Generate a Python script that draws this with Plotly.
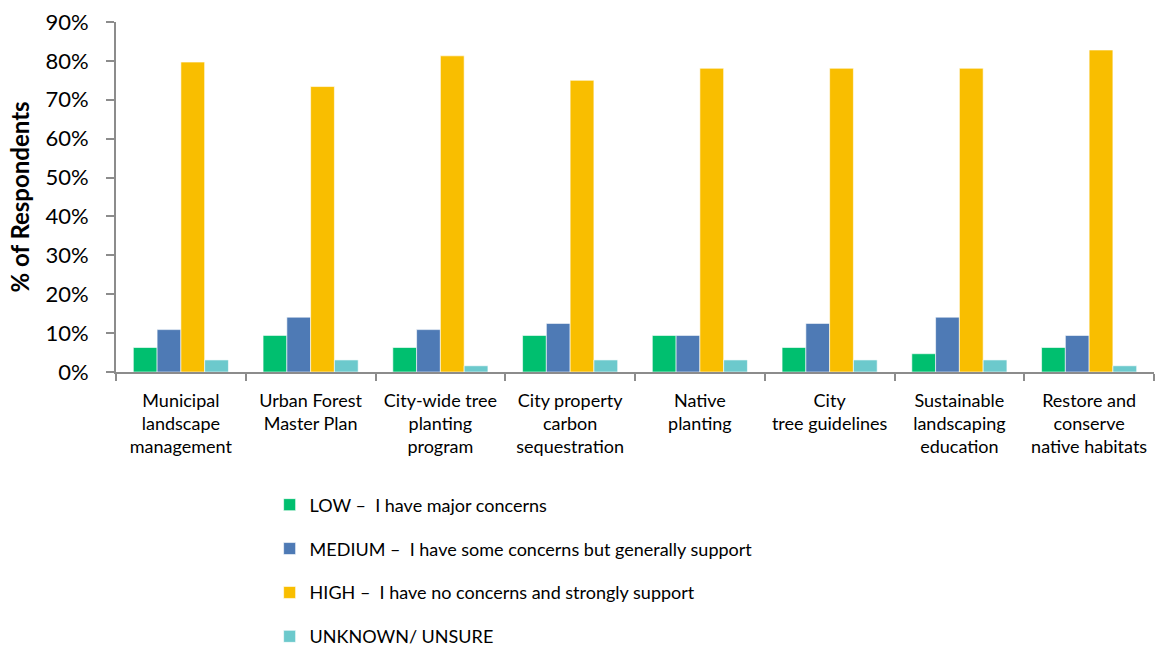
import plotly.graph_objects as go

categories = [
    "Municipal<br>landscape<br>management",
    "Urban Forest<br>Master Plan",
    "City-wide tree<br>planting<br>program",
    "City property<br>carbon<br>sequestration",
    "Native<br>planting",
    "City<br>tree guidelines",
    "Sustainable<br>landscaping<br>education",
    "Restore and<br>conserve<br>native habitats",
]
low = [6.3, 9.4, 6.3, 9.4, 9.4, 6.3, 4.7, 6.3]
medium = [10.9, 14.1, 10.9, 12.5, 9.4, 12.5, 14.1, 9.4]
high = [79.7, 73.4, 81.3, 75.0, 78.1, 78.1, 78.1, 82.8]
unknown = [3.1, 3.1, 1.6, 3.1, 3.1, 3.1, 3.1, 1.6]

series = [
    ("LOW \u2013  I have major concerns", low, "#00BF6F"),
    ("MEDIUM \u2013  I have some concerns but generally support", medium, "#4E7AB5"),
    ("HIGH \u2013  I have no concerns and strongly support", high, "#F9BE00"),
    ("UNKNOWN/ UNSURE", unknown, "#6CC9CC"),
]

font_family = "Lato, 'Open Sans', sans-serif"

fig = go.Figure()
for i, (name, vals, color) in enumerate(series):
    fig.add_trace(go.Bar(
        x=categories, y=vals, name=name,
        marker=dict(color=color, line=dict(color="rgba(255,255,255,0.6)", width=1)),
        legendgroup=str(i),
    ))

fig.update_layout(
    width=1155, height=649,
    paper_bgcolor="white", plot_bgcolor="white",
    barmode="group", bargap=0.267, bargroupgap=0,
    margin=dict(l=116, r=1, t=22, b=277, autoexpand=False),
    font=dict(family=font_family, color="black"),
    showlegend=True,
    legend=dict(
        x=0.148, y=-0.327, xanchor="left", yanchor="top",
        orientation="v", font=dict(size=18, family=font_family),
        tracegroupgap=17.5, itemwidth=30,
    ),
    xaxis=dict(
        automargin=False,
        showline=True, linecolor="#8C8C8C", linewidth=2,
        ticks="outside", tickson="boundaries", ticklen=7, tickcolor="#8C8C8C", tickwidth=2,
        tickfont=dict(size=18, family=font_family), tickangle=0,
        ticklabelstandoff=11,
        showgrid=False,
    ),
    yaxis=dict(
        automargin=False,
        range=[0, 90], dtick=10, ticksuffix="%",
        showline=True, linecolor="#8C8C8C", linewidth=2,
        ticks="outside", ticklen=8, tickcolor="#8C8C8C", tickwidth=2,
        tickfont=dict(size=22, family=font_family),
        ticklabelstandoff=13, ticklabeloverflow="allow",
        showgrid=False, zeroline=False,
        title=dict(text="<b>% of Respondents</b>", font=dict(size=24, family=font_family), standoff=9),
    ),
)

fig.write_html(
    "out.html",
    config={"displayModeBar": False},
    post_script="document.body.style.margin='0';document.body.style.overflow='hidden';",
)
